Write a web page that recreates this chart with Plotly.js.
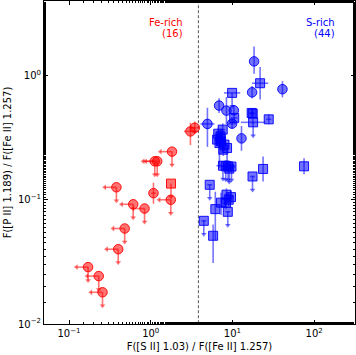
<!DOCTYPE html>
<html>
<head>
<meta charset="utf-8">
<script src="https://cdn.plot.ly/plotly-3.0.1.min.js"></script>
<style>html,body{margin:0;padding:0;background:#fff;}#plot{width:356px;height:355px;}</style>
</head>
<body>
<div id="plot"></div>
<script>
// ---------------- data ----------------
// Fe-rich group (red)
const feX    = [0.38, 0.61, 0.84, 1.08, 1.76, 1.77, 0.48, 0.40, 0.171, 0.231, 0.257, 1.82, 1.12, 1.20, 3.06, 3.46];
const feY    = [0.126, 0.092, 0.085, 0.113, 0.100, 0.135, 0.0587, 0.040, 0.0287, 0.0243, 0.018, 0.244, 0.204, 0.204, 0.355, 0.38];
const feSym  = ['o','o','o','o','o','s','o','o','o','o','o','o','o','o','o','o'];
const feXLim = [1,1,1,0,1,0,1,1,1,1,1,1,1,1,0,0];
const feYLim = [1,1,1,0,1,1,1,1,1,1,1,1,1,1,0,0];
const feEx   = [0,0,0,0.03,0,0,0,0,0,0,0,0,0,0,0.08,0.05];   // dex
const feEyLo = [0,0,0,0.085,0,0,0,0,0,0,0,0,0,0,0.11,0.05];  // dex
const feEyHi = [0,0,0,0.085,0,0,0,0,0,0,0,0,0,0,0.07,0.05];  // dex

// S-rich group (blue)
const sX    = [18.4, 40.9, 17.4, 6.86, 8.44, 10.4, 4.94, 9.9, 12.9,
               21.8, 9.9, 17.7, 17.2, 10.5, 27.8, 17.9, 7.6, 7.13, 6.49, 7.25, 6.93, 7.98, 8.59, 6.70, 7.72, 7.19,
               7.66, 8.83, 9.73, 9.14, 8.28, 23.7, 75.2, 17.6, 5.27, 8.45, 9.6, 9.0, 7.25, 8.34, 8.77, 6.17, 4.46, 5.8];
const sY    = [1.30, 0.776, 0.733, 0.573, 0.522, 0.525, 0.408, 0.41, 0.312,
               0.867, 0.725, 0.494, 0.50, 0.456, 0.444, 0.42, 0.367, 0.324, 0.305, 0.295, 0.286, 0.278, 0.261, 0.340, 0.253, 0.31,
               0.188, 0.186, 0.185, 0.178, 0.186, 0.177, 0.186, 0.154, 0.132, 0.110, 0.105, 0.100, 0.0948, 0.0948, 0.080, 0.0841, 0.0677, 0.0513];
const sSym  = ['o','o','o','o','o','o','o','o','o',
               's','s','s','s','s','s','s','s','s','s','s','s','s','s','s','s','s',
               's','s','s','s','s','s','s','s','s','s','s','s','s','s','s','s','s','s'];
const sXLim = new Array(44).fill(0);
const sYLim = [0,0,0,0,0,0,0,0,0,
               0,1,0,0,0,0,1,0,0,0,0,0,0,1,0,0,0,
               1,1,1,1,1,0,0,1,1,0,0,0,0,0,1,0,1,0];
const sEx   = [0,0,0,0,0,0,0.085,0.05,0,
               0.1,0.1,0.03,0.03,0.04,0.03,0.15,0.03,0.03,0.03,0.03,0.03,0.03,0,0.03,0.03,0.03,
               0.08,0.08,0.05,0.03,0.03,0,0,0.03,0.03,0.03,0.03,0.03,0,0.03,0.03,0,0.03,0];
const sEyLo = [0.10,0.065,0.05,0.06,0.11,0.04,0.185,0.04,0.10,
               0.13,0,0.08,0.04,0.04,0.04,0,0.05,0.05,0.05,0.10,0.20,0.05,0,0.05,0.05,0.05,
               0,0,0,0,0,0.10,0.065,0,0,0.05,0.05,0.05,0.10,0.05,0,0.25,0,0.22];
const sEyHi = [0.12,0.065,0.05,0.06,0.11,0.04,0.13,0.04,0.10,
               0.13,0,0.04,0.04,0.04,0.04,0,0.05,0.05,0.05,0.05,0.05,0.05,0,0.05,0.05,0.05,
               0,0,0,0,0,0.10,0.065,0,0,0.05,0.05,0.05,0.08,0.05,0,0.14,0,0.09];

const divider = 3.83;
const xTickVals = [0.1, 1, 10, 100];
const xTickText = ['10<sup>−1</sup>', '10<sup>0</sup>', '10<sup>1</sup>', '10<sup>2</sup>'];
const yTickVals = [0.01, 0.1, 1];
const yTickText = ['10<sup>−2</sup>', '10<sup>−1</sup>', '10<sup>0</sup>'];
const feLabel = ['Fe-rich', '(16)'];
const sLabel = ['S-rich', '(44)'];

// ---------------- build ----------------
const ARW_Y = 0.78, ARW_X = 0.72;
function groupTraces(X, Y, SYM, XL, YL, EX, EYLO, EYHI, rgb) {
  const traces = [];
  const fill = 'rgba(' + rgb + ',0.55)', edge = 'rgba(' + rgb + ',0.9)', err = 'rgba(' + rgb + ',0.55)';
  [['o','circle',9.5],['s','square',9]].forEach(([k, sym, size]) => {
    const idx = X.map((_, i) => i).filter(i => SYM[i] === k);
    if (!idx.length) return;
    const xs = idx.map(i => X[i]), ys = idx.map(i => Y[i]);
    const exm = idx.map(i => XL[i] ? X[i] * (1 - ARW_X) : X[i] * (1 - Math.pow(10, -EX[i])));
    const exp = idx.map(i => XL[i] ? 0 : X[i] * (Math.pow(10, EX[i]) - 1));
    const eym = idx.map(i => YL[i] ? Y[i] * (1 - ARW_Y) : Y[i] * (1 - Math.pow(10, -EYLO[i])));
    const eyp = idx.map(i => YL[i] ? 0 : Y[i] * (Math.pow(10, EYHI[i]) - 1));
    traces.push({
      type: 'scatter', mode: 'markers', x: xs, y: ys, hoverinfo: 'skip', showlegend: false,
      marker: {symbol: sym, size: size, color: fill, line: {color: edge, width: 1}},
      error_x: {type: 'data', symmetric: false, array: exp, arrayminus: exm, color: err, thickness: 1.6, width: 0},
      error_y: {type: 'data', symmetric: false, array: eyp, arrayminus: eym, color: err, thickness: 1.6, width: 0}
    });
  });
  const dI = X.map((_, i) => i).filter(i => YL[i]);
  traces.push({type: 'scatter', mode: 'markers', hoverinfo: 'skip', showlegend: false,
    x: dI.map(i => X[i]), y: dI.map(i => Y[i] * ARW_Y),
    marker: {symbol: 'triangle-down', size: 5, color: err}});
  const lI = X.map((_, i) => i).filter(i => XL[i]);
  traces.push({type: 'scatter', mode: 'markers', hoverinfo: 'skip', showlegend: false,
    x: lI.map(i => X[i] * ARW_X), y: lI.map(i => Y[i]),
    marker: {symbol: 'triangle-left', size: 5, color: err}});
  return traces;
}

const data = [];
data.push({type: 'scatter', mode: 'lines', x: [divider, divider], y: [0.001, 100], hoverinfo: 'skip', showlegend: false,
  line: {color: '#555', width: 1, dash: '3px,2px'}});
data.push(...groupTraces(sX, sY, sSym, sXLim, sYLim, sEx, sEyLo, sEyHi, '0,0,255'));
data.push(...groupTraces(feX, feY, feSym, feXLim, feYLim, feEx, feEyLo, feEyHi, '255,0,0'));

const FONT = 'DejaVu Sans, sans-serif';
const axisCommon = {
  type: 'log', showline: true, linecolor: '#000', linewidth: 1, mirror: 'allticks',
  ticks: 'inside', ticklen: 4, tickwidth: 1, tickcolor: '#000', showgrid: false, zeroline: false,
  tickfont: {family: FONT, size: 10, color: '#000'},
  minor: {ticks: 'inside', ticklen: 2, tickwidth: 1, tickcolor: '#000', showgrid: false}
};
const layout = {
  width: 356, height: 355, margin: {l: 44, r: 1, t: 1, b: 31},
  paper_bgcolor: '#fff', plot_bgcolor: '#fff',
  font: {family: FONT, size: 10, color: '#000'},
  xaxis: Object.assign({}, axisCommon, {range: [Math.log10(0.0494), Math.log10(316)],
    tickvals: xTickVals, ticktext: xTickText,
    title: {text: 'F([S II] 1.03) / F([Fe II] 1.257)', font: {family: FONT, size: 10, color: '#000'}, standoff: 4}}),
  yaxis: Object.assign({}, axisCommon, {range: [-2, 0.6],
    tickvals: yTickVals, ticktext: yTickText,
    title: {text: 'F([P II] 1.189) / F([Fe II] 1.257)', font: {family: FONT, size: 10, color: '#000'}, standoff: 4}}),
  annotations: [
    {xref: 'paper', yref: 'paper', x: 0.453, y: 0.932, xanchor: 'right', yanchor: 'middle', text: feLabel[0], showarrow: false, font: {family: FONT, size: 10, color: '#ff0000'}},
    {xref: 'paper', yref: 'paper', x: 0.453, y: 0.898, xanchor: 'right', yanchor: 'middle', text: feLabel[1], showarrow: false, font: {family: FONT, size: 10, color: '#ff0000'}},
    {xref: 'paper', yref: 'paper', x: 0.942, y: 0.932, xanchor: 'right', yanchor: 'middle', text: sLabel[0], showarrow: false, font: {family: FONT, size: 10, color: '#0000ff'}},
    {xref: 'paper', yref: 'paper', x: 0.942, y: 0.898, xanchor: 'right', yanchor: 'middle', text: sLabel[1], showarrow: false, font: {family: FONT, size: 10, color: '#0000ff'}}
  ]
};
Plotly.newPlot('plot', data, layout, {staticPlot: true, displayModeBar: false});
</script>
</body>
</html>
